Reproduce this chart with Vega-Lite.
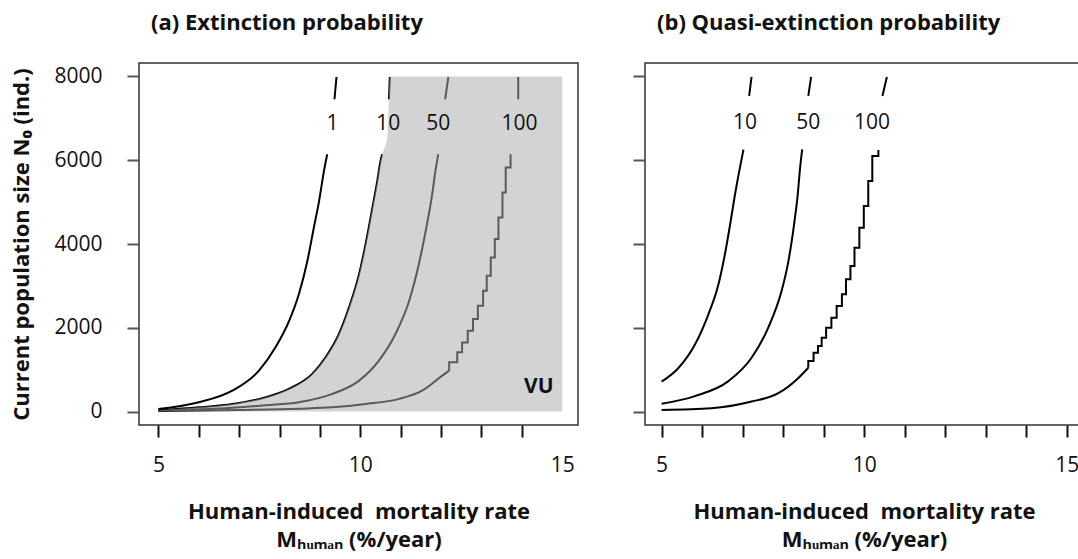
{
  "$schema": "https://vega.github.io/schema/vega-lite/v6.json",
  "background": "white",
  "padding": {"left": 10, "top": 11, "right": 0, "bottom": 0},
  "config": {
    "font": "Open Sans",
    "view": {"stroke": "#333333", "strokeWidth": 1.5},
    "axis": {
      "grid": false,
      "domain": false,
      "labelFont": "Open Sans",
      "labelFontSize": 21,
      "labelColor": "#111111",
      "tickColor": "#111111",
      "tickWidth": 2,
      "tickSize": 12,
      "titleFont": "Open Sans",
      "titleFontSize": 22,
      "titleFontWeight": "bold",
      "titleColor": "#111111"
    },
    "title": {"font": "Open Sans", "fontSize": 22, "fontWeight": "bold", "anchor": "start", "frame": "group", "color": "#111111", "dx": 12, "offset": 28},
    "concat": {"spacing": 52}
  },
  "datasets": {
    "curvesA": [
      {"part": "1-low", "kind": "smooth", "M": 5.0, "N": 60}, {"part": "1-low", "kind": "smooth", "M": 6.0, "N": 222},
      {"part": "1-low", "kind": "smooth", "M": 6.83, "N": 500}, {"part": "1-low", "kind": "smooth", "M": 7.49, "N": 977},
      {"part": "1-low", "kind": "smooth", "M": 7.9, "N": 1533}, {"part": "1-low", "kind": "smooth", "M": 8.24, "N": 2170},
      {"part": "1-low", "kind": "smooth", "M": 8.48, "N": 2806}, {"part": "1-low", "kind": "smooth", "M": 8.69, "N": 3600},
      {"part": "1-low", "kind": "smooth", "M": 8.85, "N": 4394}, {"part": "1-low", "kind": "smooth", "M": 8.98, "N": 5030},
      {"part": "1-low", "kind": "smooth", "M": 9.1, "N": 5745}, {"part": "1-low", "kind": "smooth", "M": 9.18, "N": 6143},
      {"part": "1-up", "kind": "smooth", "M": 9.36, "N": 7454}, {"part": "1-up", "kind": "smooth", "M": 9.41, "N": 7986},
      {"part": "10-low", "kind": "smooth", "M": 5.0, "N": 30}, {"part": "10-low", "kind": "smooth", "M": 6.0, "N": 102},
      {"part": "10-low", "kind": "smooth", "M": 6.83, "N": 181}, {"part": "10-low", "kind": "smooth", "M": 7.66, "N": 341},
      {"part": "10-low", "kind": "smooth", "M": 8.23, "N": 541}, {"part": "10-low", "kind": "smooth", "M": 8.81, "N": 899},
      {"part": "10-low", "kind": "smooth", "M": 9.14, "N": 1295}, {"part": "10-low", "kind": "smooth", "M": 9.47, "N": 1852},
      {"part": "10-low", "kind": "smooth", "M": 9.72, "N": 2486}, {"part": "10-low", "kind": "smooth", "M": 9.97, "N": 3282},
      {"part": "10-low", "kind": "smooth", "M": 10.13, "N": 3997}, {"part": "10-low", "kind": "smooth", "M": 10.3, "N": 4870},
      {"part": "10-low", "kind": "smooth", "M": 10.42, "N": 5507}, {"part": "10-low", "kind": "smooth", "M": 10.5, "N": 5983},
      {"part": "10-low", "kind": "smooth", "M": 10.54, "N": 6143},
      {"part": "10-up", "kind": "smooth", "M": 10.71, "N": 7454}, {"part": "10-up", "kind": "smooth", "M": 10.73, "N": 7986},
      {"part": "50-low", "kind": "smooth", "M": 5.0, "N": 20}, {"part": "50-low", "kind": "smooth", "M": 6.83, "N": 90},
      {"part": "50-low", "kind": "smooth", "M": 7.66, "N": 150}, {"part": "50-low", "kind": "smooth", "M": 8.48, "N": 222},
      {"part": "50-low", "kind": "smooth", "M": 9.31, "N": 422}, {"part": "50-low", "kind": "smooth", "M": 9.97, "N": 739},
      {"part": "50-low", "kind": "smooth", "M": 10.46, "N": 1216}, {"part": "50-low", "kind": "smooth", "M": 10.87, "N": 1852},
      {"part": "50-low", "kind": "smooth", "M": 11.21, "N": 2646}, {"part": "50-low", "kind": "smooth", "M": 11.45, "N": 3521},
      {"part": "50-low", "kind": "smooth", "M": 11.62, "N": 4315}, {"part": "50-low", "kind": "smooth", "M": 11.78, "N": 5189},
      {"part": "50-low", "kind": "smooth", "M": 11.86, "N": 5745}, {"part": "50-low", "kind": "smooth", "M": 11.93, "N": 6143},
      {"part": "50-up", "kind": "smooth", "M": 12.1, "N": 7454}, {"part": "50-up", "kind": "smooth", "M": 12.18, "N": 7986},
      {"part": "100-low", "kind": "smooth", "M": 5.0, "N": 15}, {"part": "100-low", "kind": "smooth", "M": 7.0, "N": 40},
      {"part": "100-low", "kind": "smooth", "M": 8.5, "N": 70}, {"part": "100-low", "kind": "smooth", "M": 9.31, "N": 102},
      {"part": "100-low", "kind": "smooth", "M": 10.13, "N": 181}, {"part": "100-low", "kind": "smooth", "M": 10.96, "N": 303},
      {"part": "100-low", "kind": "smooth", "M": 11.53, "N": 500}, {"part": "100-low", "kind": "smooth", "M": 12.03, "N": 858},
      {"part": "100-low", "kind": "smooth", "M": 12.2, "N": 977},
      {"part": "100-stair", "kind": "stair", "M": 12.2, "N": 977}, {"part": "100-stair", "kind": "stair", "M": 12.4, "N": 1175},
      {"part": "100-stair", "kind": "stair", "M": 12.52, "N": 1414}, {"part": "100-stair", "kind": "stair", "M": 12.66, "N": 1652},
      {"part": "100-stair", "kind": "stair", "M": 12.79, "N": 1931}, {"part": "100-stair", "kind": "stair", "M": 12.91, "N": 2210},
      {"part": "100-stair", "kind": "stair", "M": 13.04, "N": 2527}, {"part": "100-stair", "kind": "stair", "M": 13.13, "N": 2884},
      {"part": "100-stair", "kind": "stair", "M": 13.23, "N": 3242}, {"part": "100-stair", "kind": "stair", "M": 13.33, "N": 3678},
      {"part": "100-stair", "kind": "stair", "M": 13.42, "N": 4117}, {"part": "100-stair", "kind": "stair", "M": 13.52, "N": 4632},
      {"part": "100-stair", "kind": "stair", "M": 13.6, "N": 5228}, {"part": "100-stair", "kind": "stair", "M": 13.72, "N": 5824},
      {"part": "100-stair", "kind": "stair", "M": 13.72, "N": 6143},
      {"part": "100-up", "kind": "smooth", "M": 13.91, "N": 7454}, {"part": "100-up", "kind": "smooth", "M": 13.91, "N": 7986}
    ],
    "vuA": [
      {"M": 5.0, "N": 30}, {"M": 6.0, "N": 102}, {"M": 6.83, "N": 181}, {"M": 7.66, "N": 341},
      {"M": 8.23, "N": 541}, {"M": 8.81, "N": 899}, {"M": 9.14, "N": 1295}, {"M": 9.47, "N": 1852}, {"M": 9.72, "N": 2486},
      {"M": 9.97, "N": 3282}, {"M": 10.13, "N": 3997}, {"M": 10.3, "N": 4870}, {"M": 10.42, "N": 5507}, {"M": 10.5, "N": 5983},
      {"M": 10.54, "N": 6143}, {"M": 10.67, "N": 6540}, {"M": 10.71, "N": 7454}, {"M": 10.73, "N": 8000}, {"M": 15.0, "N": 8000}
    ],
    "labelsA": [
      {"text": "1", "M": 9.31, "N": 6860}, {"text": "10", "M": 10.69, "N": 6860},
      {"text": "50", "M": 11.93, "N": 6860}, {"text": "100", "M": 13.94, "N": 6860}
    ],
    "categoryA": [{"text": "VU", "M": 14.42, "N": 580}],
    "curvesB": [
      {"part": "10-low", "kind": "smooth", "M": 5.0, "N": 716}, {"part": "10-low", "kind": "smooth", "M": 5.41, "N": 1035},
      {"part": "10-low", "kind": "smooth", "M": 5.82, "N": 1594}, {"part": "10-low", "kind": "smooth", "M": 6.15, "N": 2310},
      {"part": "10-low", "kind": "smooth", "M": 6.4, "N": 3027}, {"part": "10-low", "kind": "smooth", "M": 6.56, "N": 3743},
      {"part": "10-low", "kind": "smooth", "M": 6.69, "N": 4460}, {"part": "10-low", "kind": "smooth", "M": 6.81, "N": 5176},
      {"part": "10-low", "kind": "smooth", "M": 6.93, "N": 5812}, {"part": "10-low", "kind": "smooth", "M": 7.02, "N": 6252},
      {"part": "10-up", "kind": "smooth", "M": 7.16, "N": 7534}, {"part": "10-up", "kind": "smooth", "M": 7.22, "N": 7988},
      {"part": "50-low", "kind": "smooth", "M": 5.0, "N": 186}, {"part": "50-low", "kind": "smooth", "M": 5.82, "N": 370},
      {"part": "50-low", "kind": "smooth", "M": 6.65, "N": 728}, {"part": "50-low", "kind": "smooth", "M": 7.22, "N": 1285},
      {"part": "50-low", "kind": "smooth", "M": 7.63, "N": 2000}, {"part": "50-low", "kind": "smooth", "M": 7.96, "N": 2876},
      {"part": "50-low", "kind": "smooth", "M": 8.13, "N": 3592}, {"part": "50-low", "kind": "smooth", "M": 8.28, "N": 4547},
      {"part": "50-low", "kind": "smooth", "M": 8.36, "N": 5184}, {"part": "50-low", "kind": "smooth", "M": 8.41, "N": 5740},
      {"part": "50-low", "kind": "smooth", "M": 8.47, "N": 6258},
      {"part": "50-up", "kind": "smooth", "M": 8.62, "N": 7534}, {"part": "50-up", "kind": "smooth", "M": 8.69, "N": 7988},
      {"part": "100-low", "kind": "smooth", "M": 5.0, "N": 40}, {"part": "100-low", "kind": "smooth", "M": 6.23, "N": 80},
      {"part": "100-low", "kind": "smooth", "M": 7.22, "N": 239}, {"part": "100-low", "kind": "smooth", "M": 7.88, "N": 438},
      {"part": "100-low", "kind": "smooth", "M": 8.37, "N": 796}, {"part": "100-low", "kind": "smooth", "M": 8.62, "N": 1046},
      {"part": "100-stair", "kind": "stair", "M": 8.62, "N": 1046}, {"part": "100-stair", "kind": "stair", "M": 8.75, "N": 1205},
      {"part": "100-stair", "kind": "stair", "M": 8.86, "N": 1404}, {"part": "100-stair", "kind": "stair", "M": 8.95, "N": 1564},
      {"part": "100-stair", "kind": "stair", "M": 9.06, "N": 1762}, {"part": "100-stair", "kind": "stair", "M": 9.19, "N": 2000},
      {"part": "100-stair", "kind": "stair", "M": 9.32, "N": 2240}, {"part": "100-stair", "kind": "stair", "M": 9.45, "N": 2519},
      {"part": "100-stair", "kind": "stair", "M": 9.55, "N": 2800}, {"part": "100-stair", "kind": "stair", "M": 9.66, "N": 3158},
      {"part": "100-stair", "kind": "stair", "M": 9.76, "N": 3476}, {"part": "100-stair", "kind": "stair", "M": 9.88, "N": 3912},
      {"part": "100-stair", "kind": "stair", "M": 9.99, "N": 4389}, {"part": "100-stair", "kind": "stair", "M": 10.1, "N": 4907},
      {"part": "100-stair", "kind": "stair", "M": 10.2, "N": 5504}, {"part": "100-stair", "kind": "stair", "M": 10.35, "N": 6100},
      {"part": "100-stair", "kind": "stair", "M": 10.35, "N": 6246},
      {"part": "100-up", "kind": "smooth", "M": 10.45, "N": 7534}, {"part": "100-up", "kind": "smooth", "M": 10.56, "N": 7988}
    ],
    "labelsB": [
      {"text": "10", "M": 7.06, "N": 6890}, {"text": "50", "M": 8.62, "N": 6890}, {"text": "100", "M": 10.19, "N": 6890}
    ]
  },
  "hconcat": [
    {
      "width": 439,
      "height": 362,
      "title": {"text": "(a) Extinction probability"},
      "layer": [
        {
          "data": {"name": "curvesA"},
          "transform": [{"filter": "datum.kind == 'smooth'"}],
          "mark": {"type": "line", "color": "#000000", "strokeWidth": 2, "interpolate": "monotone"},
          "encoding": {
            "x": {
              "field": "M", "type": "quantitative",
              "scale": {"domain": [4.52, 15.39], "nice": false, "zero": false},
              "axis": {
                "values": [5, 6, 7, 8, 9, 10, 11, 12, 13, 14, 15],
                "labelExpr": "datum.value % 5 == 0 ? datum.label : ''",
                "tickOpacity": {"condition": {"test": "datum.value == 15", "value": 0}, "value": 1},
                "labelPadding": 17,
                "titlePadding": 26,
                "titleLineHeight": 28,
                "title": ["Human-induced \u00a0mortality rate", "M\u2095\u1d64\u2098\u2090\u2099 (%/year)"]
              }
            },
            "y": {
              "field": "N", "type": "quantitative",
              "scale": {"domain": [-320, 8320], "nice": false, "zero": false},
              "axis": {
                "values": [0, 2000, 4000, 6000, 8000],
                "format": "d",
                "tickColor": "#555555",
                "labelPadding": 25,
                "encode": {"labels": {"update": {"dx": {"signal": "datum.value == 0 ? 19 : 0"}}}},
                "titlePadding": 20,
                "title": "Current population size N\u2080 (ind.)"
              }
            },
            "detail": {"field": "part"},
            "order": {"field": "N", "type": "quantitative"}
          }
        },
        {
          "data": {"name": "curvesA"},
          "transform": [{"filter": "datum.kind == 'stair'"}],
          "mark": {"type": "line", "color": "#000000", "strokeWidth": 2, "interpolate": "step-before"},
          "encoding": {
            "x": {"field": "M", "type": "quantitative", "scale": {"domain": [4.52, 15.39], "nice": false, "zero": false}},
            "y": {"field": "N", "type": "quantitative", "scale": {"domain": [-320, 8320], "nice": false, "zero": false}},
            "detail": {"field": "part"},
            "order": {"field": "N", "type": "quantitative"}
          }
        },
        {
          "data": {"name": "vuA"},
          "mark": {"type": "area", "fill": "#ababab", "opacity": 0.525, "interpolate": "monotone"},
          "encoding": {
            "x": {"field": "M", "type": "quantitative", "scale": {"domain": [4.52, 15.39], "nice": false, "zero": false}},
            "y": {"field": "N", "type": "quantitative", "scale": {"domain": [-320, 8320], "nice": false, "zero": false}},
            "y2": {"datum": 0}
          }
        },
        {
          "data": {"name": "labelsA"},
          "mark": {"type": "text", "fontSize": 21, "color": "#111111", "align": "center", "baseline": "middle"},
          "encoding": {
            "x": {"field": "M", "type": "quantitative"},
            "y": {"field": "N", "type": "quantitative"},
            "text": {"field": "text"}
          }
        },
        {
          "data": {"name": "categoryA"},
          "mark": {"type": "text", "fontSize": 21, "fontWeight": "bold", "color": "#111111", "align": "center", "baseline": "middle"},
          "encoding": {
            "x": {"field": "M", "type": "quantitative"},
            "y": {"field": "N", "type": "quantitative"},
            "text": {"field": "text"}
          }
        }
      ]
    },
    {
      "width": 438,
      "height": 362,
      "title": {"text": "(b) Quasi-extinction probability"},
      "layer": [
        {
          "data": {"name": "curvesB"},
          "transform": [{"filter": "datum.kind == 'smooth'"}],
          "mark": {"type": "line", "color": "#000000", "strokeWidth": 2, "interpolate": "monotone"},
          "encoding": {
            "x": {
              "field": "M", "type": "quantitative",
              "scale": {"domain": [4.59, 15.4], "nice": false, "zero": false},
              "axis": {
                "values": [5, 6, 7, 8, 9, 10, 11, 12, 13, 14, 15],
                "labelExpr": "datum.value % 5 == 0 ? datum.label : ''",
                "labelPadding": 17,
                "titlePadding": 26,
                "titleLineHeight": 28,
                "title": ["Human-induced \u00a0mortality rate", "M\u2095\u1d64\u2098\u2090\u2099 (%/year)"]
              }
            },
            "y": {
              "field": "N", "type": "quantitative",
              "scale": {"domain": [-320, 8320], "nice": false, "zero": false},
              "axis": {"values": [0, 2000, 4000, 6000, 8000], "tickColor": "#555555", "labels": false, "title": null}
            },
            "detail": {"field": "part"},
            "order": {"field": "N", "type": "quantitative"}
          }
        },
        {
          "data": {"name": "curvesB"},
          "transform": [{"filter": "datum.kind == 'stair'"}],
          "mark": {"type": "line", "color": "#000000", "strokeWidth": 2, "interpolate": "step-before"},
          "encoding": {
            "x": {"field": "M", "type": "quantitative", "scale": {"domain": [4.59, 15.4], "nice": false, "zero": false}},
            "y": {"field": "N", "type": "quantitative", "scale": {"domain": [-320, 8320], "nice": false, "zero": false}},
            "detail": {"field": "part"},
            "order": {"field": "N", "type": "quantitative"}
          }
        },
        {
          "data": {"name": "labelsB"},
          "mark": {"type": "text", "fontSize": 21, "color": "#111111", "align": "center", "baseline": "middle"},
          "encoding": {
            "x": {"field": "M", "type": "quantitative"},
            "y": {"field": "N", "type": "quantitative"},
            "text": {"field": "text"}
          }
        }
      ]
    }
  ]
}
